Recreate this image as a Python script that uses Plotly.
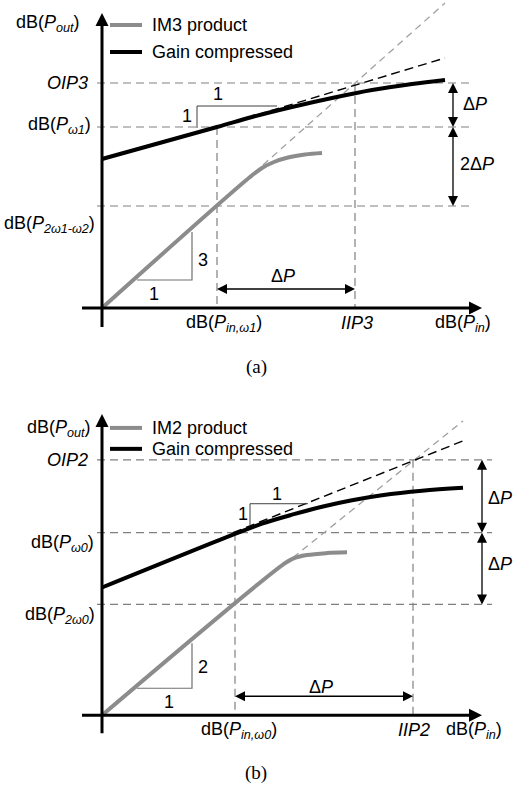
import plotly.graph_objects as go

# ---------------- data (arbitrary dB units, origin = axes crossing) ----------------
# Panel (a): third-order intercept
A_PIN_W1 = 115
A_IIP3 = 253
A_OIP3 = 225
A_P_W1 = 181
A_P_IM3 = 102
a_fund_x = [0, 115, 150, 190, 230, 270, 310, 343]
a_fund_y = [149, 181, 191, 201, 210, 218, 224, 228]
a_fund_ext_x = [115, 343]
a_fund_ext_y = [181, 250]
a_im3_x = [0, 148, 160, 172, 186, 203, 220]
a_im3_y = [0, 131, 140, 146, 150.5, 153.5, 155]
a_im3_ext_x = [161, 343]
a_im3_ext_y = [143, 305]
a_slope_im = dict(x=[35, 90, 90], y=[28, 28, 76])
a_slope_fund = dict(x=[95, 95, 175], y=[180, 202, 202])

# Panel (b): second-order intercept
B_PIN_W0 = 133
B_IIP2 = 311
B_OIP2 = 256
B_P_W0 = 183
B_P_IM2 = 111
b_fund_x = [0, 131, 160, 190, 220, 250, 280, 320, 361]
b_fund_y = [128, 181, 192, 201, 209, 215.5, 220.5, 225, 228]
b_fund_ext_x = [131, 361]
b_fund_ext_y = [183, 275]
b_im2_x = [0, 181, 191, 205, 225, 245]
b_im2_y = [0, 151, 157, 160.5, 162.5, 163.3]
b_im2_ext_x = [191, 361]
b_im2_ext_y = [158, 295]
b_slope_im = dict(x=[35, 90, 90], y=[27, 27, 72])
b_slope_fund = dict(x=[148, 148, 206], y=[189, 212, 212])

# ---------------- styles ----------------
FONT = "Liberation Sans, Arial, sans-serif"
SERIF = "Liberation Serif, DejaVu Serif, serif"
GRAY = "#8c8c8c"
GUIDE = "#808080"
EXT_GRAY = "#a0a0a0"
FS = 18

fig = go.Figure()

def ax_of(p):
    return ("x", "y") if p == "a" else ("x2", "y2")

def line(xs, ys, p, color, width, dash=None, shape="linear"):
    xa, ya = ax_of(p)
    fig.add_trace(go.Scatter(x=xs, y=ys, mode="lines", xaxis=xa, yaxis=ya,
                             line=dict(color=color, width=width, dash=dash, shape=shape),
                             hoverinfo="skip", showlegend=False, cliponaxis=False))

def text(s, x, y, p, xanchor="center", yanchor="middle", size=FS, family=FONT):
    xa, ya = ax_of(p)
    fig.add_annotation(text=s, x=x, y=y, xref=xa, yref=ya, showarrow=False,
                       xanchor=xanchor, yanchor=yanchor,
                       font=dict(family=family, size=size, color="black"))

def _sym(dx, dy):
    if abs(dx) >= abs(dy):
        return "arrow-right" if dx > 0 else "arrow-left"
    return "arrow-up" if dy > 0 else "arrow-down"

def arrow(x0, y0, x1, y1, p, width=1.3, msize=10, both=True):
    xa, ya = ax_of(p)
    dx, dy = x1 - x0, y1 - y0
    L = (dx * dx + dy * dy) ** 0.5
    ux, uy = dx / L, dy / L
    cut = msize * 0.6
    sx0, sy0 = (x0 + ux * cut, y0 + uy * cut) if both else (x0, y0)
    line([sx0, x1 - ux * cut], [sy0, y1 - uy * cut], p, "black", width)
    xs, ys, syms = [x1], [y1], [_sym(dx, dy)]
    if both:
        xs.append(x0); ys.append(y0); syms.append(_sym(-dx, -dy))
    fig.add_trace(go.Scatter(x=xs, y=ys, mode="markers", xaxis=xa, yaxis=ya,
                             marker=dict(symbol=syms, size=msize, color="black",
                                         line=dict(width=0)),
                             hoverinfo="skip", showlegend=False, cliponaxis=False))

GD = "8px,5px"

def panel(p, pin, iip, oip, pw, pim, fx, fy, fex, fey, ix, iy, iex, iey,
          slope_im, slope_f, vx, hx_end, labels):
    # guides
    for yv in (oip, pw, pim):
        line([-5, hx_end], [yv, yv], p, GUIDE, 1.2, GD)
    line([pin, pin], [pw, 0], p, GUIDE, 1.2, GD)
    line([iip, iip], [oip, 0], p, GUIDE, 1.2, GD)
    # extrapolations
    line(iex, iey, p, EXT_GRAY, 1.3, "7px,5px")
    line(fex, fey, p, "black", 1.4, "9px,5px")
    # slope triangles
    line(slope_im["x"], slope_im["y"], p, "#707070", 1.2)
    line(slope_f["x"], slope_f["y"], p, "#404040", 1.0)
    # curves
    line(ix, iy, p, GRAY, 4, shape="spline")
    line(fx, fy, p, "black", 4, shape="spline")
    # dimension arrows
    arrow(pin, 19, iip, 19, p)
    arrow(vx, pw, vx, oip, p)
    arrow(vx, pim, vx, pw, p)
    for s, x, y, xa, ya in labels:
        text(s, x, y, p, xa, ya)

IT = lambda s: "<i>" + s + "</i>"
DP = "Δ" + IT("P")

panel("a", A_PIN_W1, A_IIP3, A_OIP3, A_P_W1, A_P_IM3,
      a_fund_x, a_fund_y, a_fund_ext_x, a_fund_ext_y,
      a_im3_x, a_im3_y, a_im3_ext_x, a_im3_ext_y,
      a_slope_im, a_slope_fund, 351, 370,
      [("dB(" + IT("P<sub>out</sub>") + ")", -20, 285, "right", "middle"),
       (IT("OIP3"), -12, A_OIP3, "right", "middle"),
       ("dB(" + IT("P<sub>ω1</sub>") + ")", -9, 183, "right", "middle"),
       ("dB(" + IT("P<sub>2ω1-ω2</sub>") + ")", -5, 84, "right", "middle"),
       ("dB(" + IT("P<sub>in,ω1</sub>") + ")", 122, -15, "center", "middle"),
       (IT("IIP3"), 255, -15, "center", "middle"),
       ("dB(" + IT("P<sub>in</sub>") + ")", 361, -15, "center", "middle"),
       ("3", 101, 48, "center", "middle"),
       ("1", 52, 14, "center", "middle"),
       ("1", 116, 214, "center", "middle"),
       ("1", 85, 192, "center", "middle"),
       (DP, 181, 32, "center", "middle"),
       (DP, 359, 204, "left", "middle"),
       ("2" + DP, 356, 144, "left", "middle"),
       ("IM3 product", 48, 283, "left", "middle"),
       ("Gain compressed", 48, 256, "left", "middle")])

panel("b", B_PIN_W0, B_IIP2, B_OIP2, B_P_W0, B_P_IM2,
      b_fund_x, b_fund_y, b_fund_ext_x, b_fund_ext_y,
      b_im2_x, b_im2_y, b_im2_ext_x, b_im2_ext_y,
      b_slope_im, b_slope_fund, 380, 390,
      [("dB(" + IT("P<sub>out</sub>") + ")", -9, 287, "right", "middle"),
       (IT("OIP2"), -12, B_OIP2, "right", "middle"),
       ("dB(" + IT("P<sub>ω0</sub>") + ")", -6, 172, "right", "middle"),
       ("dB(" + IT("P<sub>2ω0</sub>") + ")", -5, 100, "right", "middle"),
       ("dB(" + IT("P<sub>in,ω0</sub>") + ")", 137, -15, "center", "middle"),
       (IT("IIP2"), 312, -15, "center", "middle"),
       ("dB(" + IT("P<sub>in</sub>") + ")", 372, -15, "center", "middle"),
       ("2", 101, 48, "center", "middle"),
       ("1", 67, 13, "center", "middle"),
       ("1", 175, 222, "center", "middle"),
       ("1", 141, 202, "center", "middle"),
       (DP, 219, 28, "center", "middle"),
       (DP, 384, 218, "left", "middle"),
       (DP, 384, 152, "left", "middle"),
       ("IM2 product", 48, 288, "left", "middle"),
       ("Gain compressed", 48, 267, "left", "middle")])

# legends (line samples)
line([8, 40], [283, 283], "a", GRAY, 4)
line([8, 40], [256, 256], "a", "black", 4)
line([8, 40], [288, 288], "b", GRAY, 4)
line([8, 40], [267, 267], "b", "black", 4)

# axes with arrowheads
arrow(0, -19, 0, 295, "a", width=3, msize=13, both=False)
arrow(-20, 0, 380, 0, "a", width=3, msize=13, both=False)
arrow(0, -18, 0, 302, "b", width=3, msize=13, both=False)
arrow(-20, 0, 380, 0, "b", width=3, msize=13, both=False)

# captions
text("(a)", 154, -59, "a", size=19, family=SERIF)
text("(b)", 154, -58, "b", size=19, family=SERIF)

H = 785
hid = dict(visible=False, showgrid=False, zeroline=False, fixedrange=True)
fig.update_layout(
    width=513, height=H, margin=dict(l=0, r=0, t=0, b=0),
    paper_bgcolor="white", plot_bgcolor="white", showlegend=False,
    xaxis=dict(hid, domain=[0, 1], range=[-102, 411]),
    yaxis=dict(hid, domain=[1 - 392 / H, 1], range=[-84, 308]),
    xaxis2=dict(hid, domain=[0, 1], range=[-102, 411], anchor="y2"),
    yaxis2=dict(hid, domain=[0, 392 / H], range=[-70, 323], anchor="x2"),
)
fig.write_html("out.html", config={"displayModeBar": False},
               post_script="document.body.style.margin='0';document.body.style.overflow='hidden';")
